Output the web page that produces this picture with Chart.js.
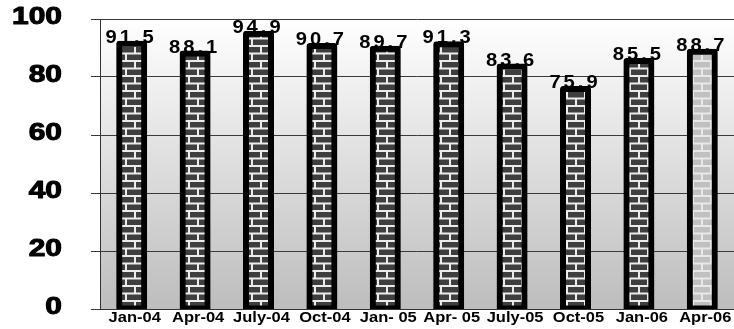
<!DOCTYPE html>
<html>
<head>
<meta charset="utf-8">
<script src="https://cdn.jsdelivr.net/npm/chart.js@4"></script>
<style>
  html, body { margin: 0; padding: 0; background: #fff; }
  #wrap { width: 734px; height: 329px; }
</style>
</head>
<body>
<div id="wrap"><canvas id="c" width="734" height="329"></canvas></div>
<script>
const categories = ['Jan-04', 'Apr-04', 'July-04', 'Oct-04', 'Jan- 05', 'Apr- 05', 'July-05', 'Oct-05', 'Jan-06', 'Apr-06'];
const values = [91.5, 88.1, 94.9, 90.7, 89.7, 91.3, 83.6, 75.9, 85.5, 88.7];
const yTickValues = [0, 20, 40, 60, 80, 100];

const FONT = '"Liberation Sans", Arial, sans-serif';

// Brick fill: staggered rows of bricks separated by mortar lines
function brickPattern(brick, mortar) {
  const c = document.createElement('canvas');
  c.width = 18; c.height = 15;
  const g = c.getContext('2d');
  g.fillStyle = mortar;
  g.fillRect(0, 0, 18, 15);
  g.fillStyle = brick;
  g.fillRect(0, 2, 8, 5.5);
  g.fillRect(10, 2, 8, 5.5);
  g.fillRect(1, 9.5, 16, 5.5);
  return g.createPattern(c, 'repeat');
}
const darkBricks = brickPattern('#3e3e3e', '#ececec');
const lightBricks = brickPattern('#c0c0c0', '#e8e8e8');

// Plot background: white at the top fading to grey at the base
const plotBackground = {
  id: 'plotBackground',
  beforeDraw(chart) {
    const { ctx, chartArea: a } = chart;
    const grad = ctx.createLinearGradient(0, a.top, 0, a.bottom);
    grad.addColorStop(0, '#ffffff');
    grad.addColorStop(1, '#bdbdbd');
    ctx.save();
    ctx.fillStyle = grad;
    ctx.fillRect(a.left, a.top, a.right - a.left, a.bottom - a.top);
    ctx.restore();
  }
};

// Draw text stretched horizontally around an anchor point
function wideText(ctx, txt, x, y, stretch, heavy) {
  ctx.save();
  ctx.translate(x, y);
  ctx.scale(stretch, 1);
  if (heavy) {
    ctx.lineWidth = heavy;
    ctx.strokeStyle = ctx.fillStyle;
    ctx.lineJoin = 'round';
    ctx.strokeText(txt, 0, 0);
  }
  ctx.fillText(txt, 0, 0);
  ctx.restore();
}

// Wide, bold axis labels for both axes
const axisLabels = {
  id: 'axisLabels',
  afterDraw(chart) {
    const { ctx } = chart;
    const ys = chart.scales.y;
    const xs = chart.scales.x;
    ctx.save();
    ctx.fillStyle = '#000';

    ctx.font = 'bold 23px ' + FONT;
    ctx.textAlign = 'right';
    ctx.textBaseline = 'middle';
    ys.ticks.forEach((t, i) => {
      wideText(ctx, String(t.value), 62, ys.getPixelForTick(i) - 1, 1.3, 1);
    });

    ctx.font = 'bold 15px ' + FONT;
    ctx.textAlign = 'center';
    ctx.textBaseline = 'alphabetic';
    xs.ticks.forEach((t, i) => {
      wideText(ctx, chart.data.labels[t.value], xs.getPixelForTick(i) + 3, xs.top + 13, 1.1, 0);
    });
    ctx.restore();
  }
};

// Spaced-out value labels sitting on top of each bar
const valueLabels = {
  id: 'valueLabels',
  afterDatasetsDraw(chart) {
    const { ctx } = chart;
    const meta = chart.getDatasetMeta(0);
    const spacing = 3;
    const stretch = 1.12;
    ctx.save();
    ctx.fillStyle = '#000';
    ctx.font = 'bold 18px ' + FONT;
    ctx.textBaseline = 'alphabetic';
    ctx.textAlign = 'left';
    meta.data.forEach((bar, i) => {
      const txt = values[i].toFixed(1);
      const chars = txt.split('');
      const widths = chars.map(ch => ctx.measureText(ch).width * stretch);
      const total = widths.reduce((a, b) => a + b, 0) + spacing * (chars.length - 1);
      let x = bar.x - total / 2 - 2;
      const y = bar.y - 1;
      chars.forEach((ch, k) => {
        wideText(ctx, ch, x, y, stretch, 0);
        x += widths[k] + spacing;
      });
    });
    ctx.restore();
  }
};

new Chart(document.getElementById('c').getContext('2d'), {
  type: 'bar',
  data: {
    labels: categories,
    datasets: [{
      data: values,
      backgroundColor: c => (c.dataIndex === values.length - 1 ? lightBricks : darkBricks),
      borderColor: '#000',
      borderWidth: 6,
      borderSkipped: false,
      borderRadius: 3,
      inflateAmount: 3,
      barThickness: 25
    }]
  },
  options: {
    responsive: false,
    animation: false,
    devicePixelRatio: 1,
    layout: { padding: { top: 19, right: 0, left: 0, bottom: 0 } },
    plugins: { legend: { display: false }, tooltip: { enabled: false } },
    scales: {
      x: {
        grid: { display: false, drawTicks: false, tickLength: 0 },
        border: { display: true, color: '#333', width: 1 },
        ticks: { display: false, autoSkip: false },
        afterFit: s => { s.height = 20; }
      },
      y: {
        min: 0,
        max: 100,
        afterBuildTicks: s => { s.ticks = yTickValues.map(v => ({ value: v })); },
        ticks: { display: false },
        grid: { color: '#3a3a3a', lineWidth: 1, drawTicks: true, tickLength: 9 },
        border: { display: true, color: '#333', width: 1 },
        afterFit: s => { s.width = 100; }
      }
    }
  },
  plugins: [plotBackground, valueLabels, axisLabels]
});
</script>
</body>
</html>
